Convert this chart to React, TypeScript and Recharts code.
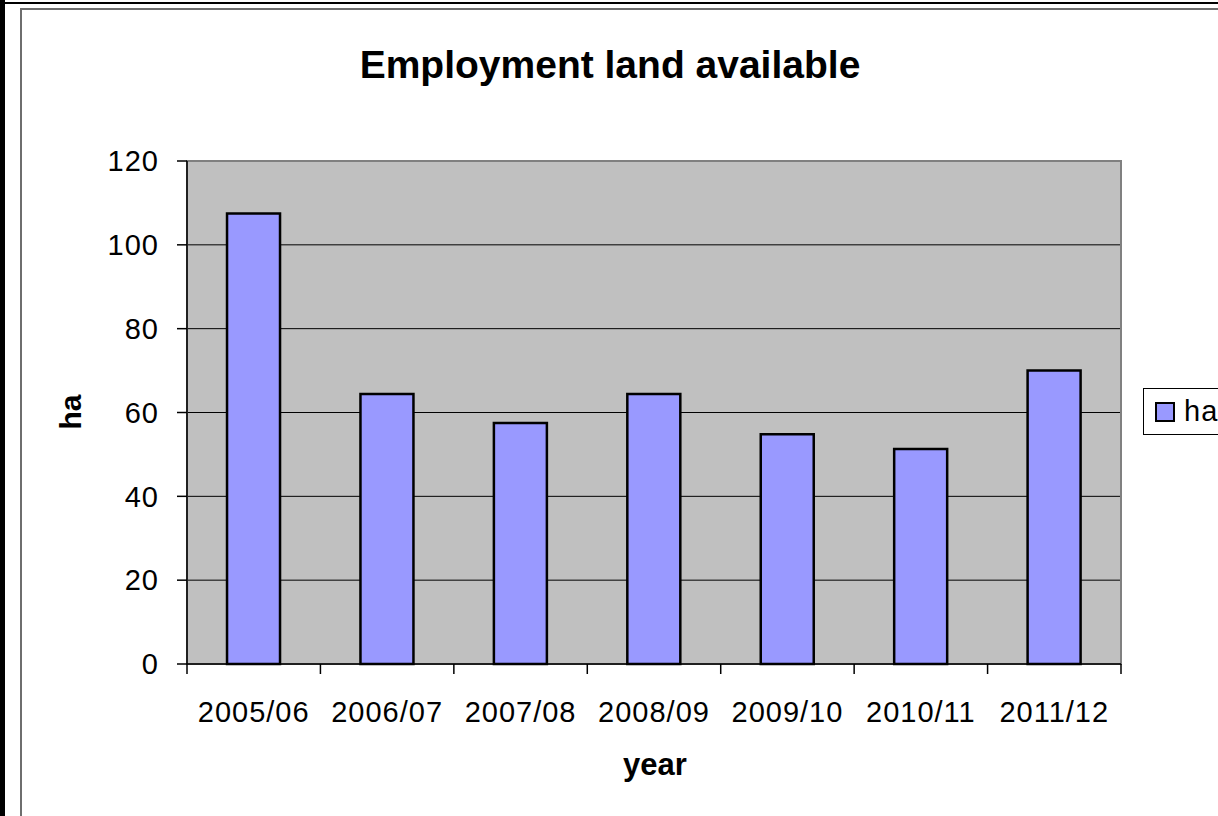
import React from 'react';
import { BarChart, Bar, XAxis, YAxis, CartesianGrid, Legend, ReferenceArea } from 'recharts';

// values
const years = ['2005/06', '2006/07', '2007/08', '2008/09', '2009/10', '2010/11', '2011/12'];
const haValues = [107.5, 64.4, 57.5, 64.4, 54.8, 51.3, 70];
const yTicks = [0, 20, 40, 60, 80, 100, 120];

const data = years.map((year, i) => ({ year, ha: haValues[i] }));

const font = '"Liberation Sans", Arial, sans-serif';

// Excel puts the category ticks between the columns, so the tick mark is drawn
// at the band edge (coordinate minus half the band) and the label at its centre.
const YearTick = (props: any) => {
  const { x, y, payload, index, visibleTicksCount } = props;
  const half = payload.offset || 0;
  const isLast = index === visibleTicksCount - 1;
  return (
    <g>
      <line x1={x - half} x2={x - half} y1={y - 38} y2={y - 28} stroke="#000" strokeWidth={1.5} />
      {isLast && <line x1={x + half} x2={x + half} y1={y - 38} y2={y - 28} stroke="#000" strokeWidth={1.5} />}
      <text x={x} y={y} dy={20} textAnchor="middle" fill="#000" fontSize={29} fontFamily={font} letterSpacing={1}>
        {payload.value}
      </text>
    </g>
  );
};

const LegendBox = (props: any) => {
  const items = props.payload || [];
  return (
    <div
      style={{
        border: '1px solid #000',
        background: '#fff',
        height: 47,
        width: 140,
        display: 'flex',
        alignItems: 'center',
        paddingLeft: 11,
        boxSizing: 'border-box',
        fontFamily: font,
      }}
    >
      {items.map((it: any) => (
        <div key={it.value} style={{ display: 'flex', alignItems: 'center' }}>
          <span
            style={{
              display: 'inline-block',
              width: 16,
              height: 16,
              background: '#9999ff',
              border: '2px solid #000',
              marginRight: 9,
            }}
          />
          <span style={{ fontSize: 29, letterSpacing: 1, color: '#000', lineHeight: '29px' }}>{it.value}</span>
        </div>
      ))}
    </div>
  );
};

const App: React.FC = () => {
  return (
    <div
      style={{
        position: 'absolute',
        left: 0,
        top: 0,
        width: 1218,
        height: 816,
        overflow: 'hidden',
        background: '#fff',
        fontFamily: font,
      }}
    >
      {/* bits of the surrounding page */}
      <div style={{ position: 'absolute', left: 0, top: 0, width: 5, height: 816, background: '#000' }} />
      <div style={{ position: 'absolute', left: 0, top: 2, width: 1218, height: 2, background: '#000' }} />
      <div
        style={{
          position: 'absolute',
          left: 20,
          top: 8,
          width: 1300,
          height: 900,
          border: '2px solid #6e6e6e',
        }}
      />

      <div
        style={{
          position: 'absolute',
          left: 0,
          top: 45,
          width: 1220,
          textAlign: 'center',
          fontSize: 39,
          lineHeight: '39px',
          fontWeight: 'bold',
          color: '#000',
          whiteSpace: 'nowrap',
        }}
      >
        Employment land available
      </div>

      <div
        style={{
          position: 'absolute',
          left: 71,
          top: 412,
          transform: 'translate(-50%, -50%) rotate(-90deg)',
          fontSize: 30,
          lineHeight: '30px',
          fontWeight: 'bold',
          color: '#000',
          whiteSpace: 'nowrap',
        }}
      >
        ha
      </div>

      <div
        style={{
          position: 'absolute',
          left: 555,
          top: 749,
          width: 200,
          textAlign: 'center',
          fontSize: 31,
          lineHeight: '31px',
          fontWeight: 'bold',
          color: '#000',
        }}
      >
        year
      </div>

      <div style={{ position: 'absolute', left: 0, top: 0 }}>
        <BarChart
          width={1218}
          height={816}
          data={data}
          margin={{ top: 161, right: 97, bottom: 92, left: 127 }}
          barCategoryGap="30%"
        >
          <CartesianGrid vertical={false} fill="#c0c0c0" stroke="#000" strokeWidth={1} horizontalValues={[20, 40, 60, 80, 100]} />
          <ReferenceArea y1={0} y2={120} fill="none" stroke="#808080" strokeWidth={2} strokeOpacity={1} />
          <XAxis
            dataKey="year"
            height={60}
            tickLine={false}
            tickSize={0}
            tickMargin={38}
            axisLine={{ stroke: '#000', strokeWidth: 1.5 }}
            interval={0}
            tick={<YearTick />}
          />
          <YAxis
            width={60}
            domain={[0, 120]}
            ticks={yTicks}
            interval={0}
            tickSize={10}
            tickMargin={18}
            axisLine={{ stroke: '#000', strokeWidth: 1.5 }}
            tickLine={{ stroke: '#000', strokeWidth: 1.5 }}
            tick={{ fill: '#000', fontSize: 29, fontFamily: font, letterSpacing: 1 }}
          />
          <Legend
            layout="horizontal"
            verticalAlign="middle"
            content={<LegendBox />}
            wrapperStyle={{ left: 1143, top: 388, width: 140 }}
          />
          <Bar dataKey="ha" fill="#9999ff" stroke="#000" strokeWidth={2.5} isAnimationActive={false} />
        </BarChart>
      </div>
    </div>
  );
};

export default App;
